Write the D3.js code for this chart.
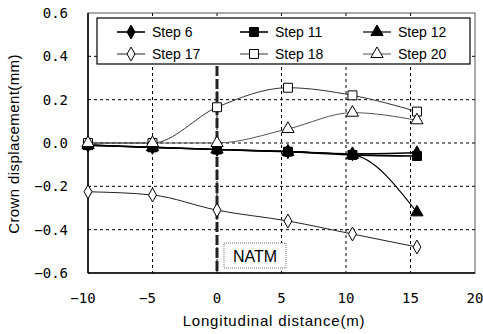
<!DOCTYPE html>
<html><head><meta charset="utf-8">
<script src="https://cdn.jsdelivr.net/npm/d3@7"></script>
<style>body{margin:0;background:#fff}svg{display:block}</style>
</head><body><svg id="c" width="483" height="334"></svg>
<script>
const xValues = [-10, -5, 0, 5.5, 10.5, 15.5];
const step6  = [-0.01, -0.02, -0.03, -0.04, -0.05, -0.045];
const step11 = [-0.01, -0.02, -0.03, -0.04, -0.055, -0.06];
const step12 = [-0.01, -0.02, -0.03, -0.04, -0.055, -0.32];
const step17 = [-0.225, -0.24, -0.31, -0.36, -0.42, -0.48];
const step18 = [0.0, 0.0, 0.165, 0.255, 0.22, 0.145];
const step20 = [0.0, 0.0, 0.0, 0.065, 0.14, 0.105];
const seriesNames = ["Step 6","Step 11","Step 12","Step 17","Step 18","Step 20"];
const xTicks = [-10, -5, 0, 5, 10, 15, 20];
const yTicks = [-0.6, -0.4, -0.2, 0.0, 0.2, 0.4, 0.6];
const annotation = "NATM";
const xTitle = "Longitudinal distance(m)";
const yTitle = "Crown displacement(mm)";

const svg = d3.select("#c");
const L = 88, R = 475, T = 13, B = 273;
const x = d3.scaleLinear().domain([-10, 20]).range([L, R]);
const y = d3.scaleLinear().domain([-0.6, 0.6]).range([B, T]);

// grid
const g = svg.append("g");
g.selectAll(".vg").data(xTicks.filter(t => t > -10 && t < 20)).join("line")
  .attr("x1", d => x(d)).attr("x2", d => x(d)).attr("y1", T).attr("y2", B)
  .attr("stroke", "#000").attr("stroke-width", 1).attr("stroke-dasharray", "3,3");
g.selectAll(".hg").data(yTicks.filter(t => t > -0.6 && t < 0.6)).join("line")
  .attr("x1", L).attr("x2", R).attr("y1", d => y(d)).attr("y2", d => y(d))
  .attr("stroke", "#000").attr("stroke-width", 1).attr("stroke-dasharray", "3,3");

// frame
svg.append("rect").attr("x", L).attr("y", T).attr("width", R - L).attr("height", B - T)
  .attr("fill", "none").attr("stroke", "#555").attr("stroke-width", 1);
svg.append("line").attr("x1", L).attr("x2", L).attr("y1", T).attr("y2", B).attr("stroke", "#000").attr("stroke-width", 1.5);
svg.append("line").attr("x1", L).attr("x2", R).attr("y1", B).attr("y2", B).attr("stroke", "#000").attr("stroke-width", 1.5);

// axes tick labels
const fmt = d => (d < 0 ? "\u2212" : "") + Math.abs(d).toFixed(1);
svg.append("g").selectAll("text").data(yTicks).join("text")
  .attr("x", 68).attr("y", d => y(d) + 5).attr("text-anchor", "end")
  .attr("font-family", "DejaVu Sans Mono, monospace").attr("font-size", 14)
  .text(fmt);
svg.append("g").selectAll("text").data(xTicks).join("text")
  .attr("x", d => x(d) - (d < 0 ? 5 : 0)).attr("y", 303).attr("text-anchor", "middle")
  .attr("font-family", "DejaVu Sans Mono, monospace").attr("font-size", 14)
  .text(d => (d < 0 ? "\u2212" : "") + Math.abs(d));

svg.append("text").attr("x", 274).attr("y", 326).attr("text-anchor", "middle")
  .attr("font-family", "Liberation Sans, Arial, sans-serif").attr("font-size", 15)
  .attr("letter-spacing", 0.8).text(xTitle);
svg.append("text").attr("transform", `translate(19,144) rotate(-90)`).attr("text-anchor", "middle")
  .attr("font-family", "Liberation Sans, Arial, sans-serif").attr("font-size", 15)
  .attr("letter-spacing", 0.4).text(yTitle);

// NATM vertical line
svg.append("line").attr("x1", x(0)).attr("x2", x(0)).attr("y1", 66).attr("y2", B - 2)
  .attr("stroke", "#222").attr("stroke-width", 3).attr("stroke-dasharray", "10,3");

// NATM box
svg.append("rect").attr("x", 224).attr("y", 243).attr("width", 62).attr("height", 25)
  .attr("fill", "#fff").attr("stroke", "#777").attr("stroke-width", 1).attr("stroke-dasharray", "1,1");
svg.append("text").attr("x", 255).attr("y", 262).attr("text-anchor", "middle")
  .attr("font-family", "Liberation Sans, Arial, sans-serif").attr("font-size", 16).text(annotation);

// series
const sym = {
  diamond: d3.symbolDiamond, square: d3.symbolSquare, triangle: d3.symbolTriangle
};
const series = [
  {name: seriesNames[0], v: step6,  s: "diamond",  fill: "#000", w: 1.6, c: "#000", sz: 55},
  {name: seriesNames[1], v: step11, s: "square",   fill: "#000", w: 1.6, c: "#000", sz: 80},
  {name: seriesNames[2], v: step12, s: "triangle", fill: "#000", w: 1.2, c: "#000", sz: 65},
  {name: seriesNames[3], v: step17, s: "diamond",  fill: "#fff", w: 1,   c: "#222", sz: 55},
  {name: seriesNames[4], v: step18, s: "square",   fill: "#fff", w: 1,   c: "#333", sz: 80},
  {name: seriesNames[5], v: step20, s: "triangle", fill: "#fff", w: 1,   c: "#555", sz: 65}
];
const line = d3.line().x(d => x(d[0])).y(d => y(d[1])).curve(d3.curveMonotoneX);
series.forEach(s => {
  const pts = xValues.map((xv, i) => [xv, s.v[i]]);
  svg.append("path").attr("d", line(pts)).attr("fill", "none").attr("stroke", s.c).attr("stroke-width", s.w);
});
series.forEach(s => {
  const pts = xValues.map((xv, i) => [xv, s.v[i]]);
  svg.append("g").selectAll("path").data(pts).join("path")
    .attr("transform", d => `translate(${x(d[0])},${y(d[1])})`)
    .attr("d", d3.symbol().type(sym[s.s]).size(s.sz))
    .attr("fill", s.fill).attr("stroke", "#000").attr("stroke-width", 1);
});

// legend
svg.append("rect").attr("x", 97).attr("y", 18).attr("width", 373).attr("height", 46)
  .attr("fill", "#fff").attr("stroke", "#000").attr("stroke-width", 1.2);
const cols = [117, 240, 363], rows = [32, 54];
series.forEach((s, i) => {
  const cx = cols[i % 3], cy = rows[Math.floor(i / 3)];
  svg.append("line").attr("x1", cx).attr("x2", cx + 28).attr("y1", cy).attr("y2", cy)
    .attr("stroke", s.c).attr("stroke-width", s.w);
  svg.append("path").attr("transform", `translate(${cx + 14},${cy})`)
    .attr("d", d3.symbol().type(sym[s.s]).size(s.sz)).attr("fill", s.fill).attr("stroke", "#000");
  svg.append("text").attr("x", cx + 35).attr("y", cy + 5)
    .attr("font-family", "Liberation Sans, Arial, sans-serif").attr("font-size", 14).text(s.name);
});
</script></body></html>
